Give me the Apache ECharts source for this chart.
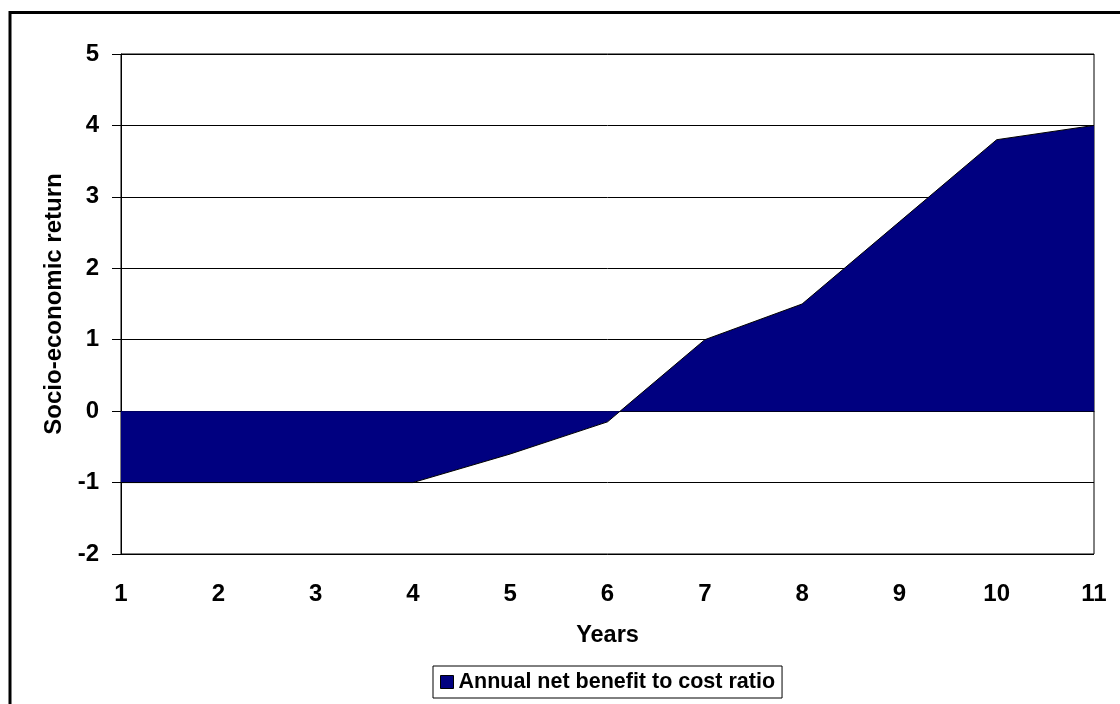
<!DOCTYPE html>
<html>
<head>
<meta charset="utf-8">
<script src="https://cdn.jsdelivr.net/npm/echarts@6/dist/echarts.min.js"></script>
<style>
html,body{margin:0;padding:0;background:#fff;}
#c{width:1120px;height:704px;}
</style>
</head>
<body>
<div id="c"></div>
<script>
var years = ['1','2','3','4','5','6','7','8','9','10','11'];
var ratio = [-1, -1, -1, -1, -0.6, -0.15, 1.0, 1.5, 2.65, 3.8, 4.0];
var seriesName = 'Annual net benefit to cost ratio';
var yTicks = {min: -2, max: 5, interval: 1};

var chart = echarts.init(document.getElementById('c'), null, {renderer: 'canvas'});
var font = 'Arial, "Liberation Sans", sans-serif';
chart.setOption({
  animation: false,
  backgroundColor: '#fff',
  graphic: [{
    type: 'rect',
    shape: {x: 10, y: 12.5, width: 1300, height: 900},
    style: {fill: 'none', stroke: '#000', lineWidth: 3},
    silent: true
  }],
  grid: {left: 121, right: 26, top: 54, bottom: 150, show: true, borderColor: '#000', borderWidth: 1, backgroundColor: 'transparent'},
  legend: {
    data: [{name: seriesName, icon: 'rect'}],
    bottom: 6,
    left: 433,
    itemWidth: 13,
    itemHeight: 13,
    itemGap: 6,
    padding: [5, 7, 5, 7],
    borderColor: '#000',
    borderWidth: 1,
    itemStyle: {borderColor: '#000', borderWidth: 1},
    textStyle: {fontFamily: font, fontWeight: 'bold', fontSize: 21.5, color: '#000', padding: [0, 0, 0, 0]}
  },
  xAxis: {
    type: 'category',
    data: years,
    boundaryGap: false,
    name: 'Years',
    nameLocation: 'middle',
    nameGap: 70,
    nameTextStyle: {fontFamily: font, fontWeight: 'bold', fontSize: 23.5, color: '#000'},
    axisLine: {show: true, lineStyle: {color: '#000', width: 1}},
    axisTick: {show: false},
    splitLine: {show: false},
    axisLabel: {fontFamily: font, fontWeight: 'bold', fontSize: 24, color: '#000', margin: 28}
  },
  yAxis: {
    type: 'value',
    min: yTicks.min,
    max: yTicks.max,
    interval: yTicks.interval,
    name: 'Socio-economic return',
    nameLocation: 'middle',
    nameGap: 66,
    nameRotate: 90,
    nameTextStyle: {fontFamily: font, fontWeight: 'bold', fontSize: 24, color: '#000', verticalAlign: 'middle'},
    axisLine: {show: true, lineStyle: {color: '#000', width: 1}},
    axisTick: {show: true, length: 9, inside: false, lineStyle: {color: '#000'}},
    splitLine: {show: true, lineStyle: {color: '#000', width: 1}},
    axisLabel: {fontFamily: font, fontWeight: 'bold', fontSize: 24, color: '#000', margin: 22}
  },
  series: [{
    name: seriesName,
    type: 'line',
    data: ratio,
    symbol: 'none',
    lineStyle: {color: '#000', width: 1},
    itemStyle: {color: '#000080', borderColor: '#000'},
    areaStyle: {color: '#000080', opacity: 1, origin: 0},
    z: 3
  }]
});
</script>
</body>
</html>
